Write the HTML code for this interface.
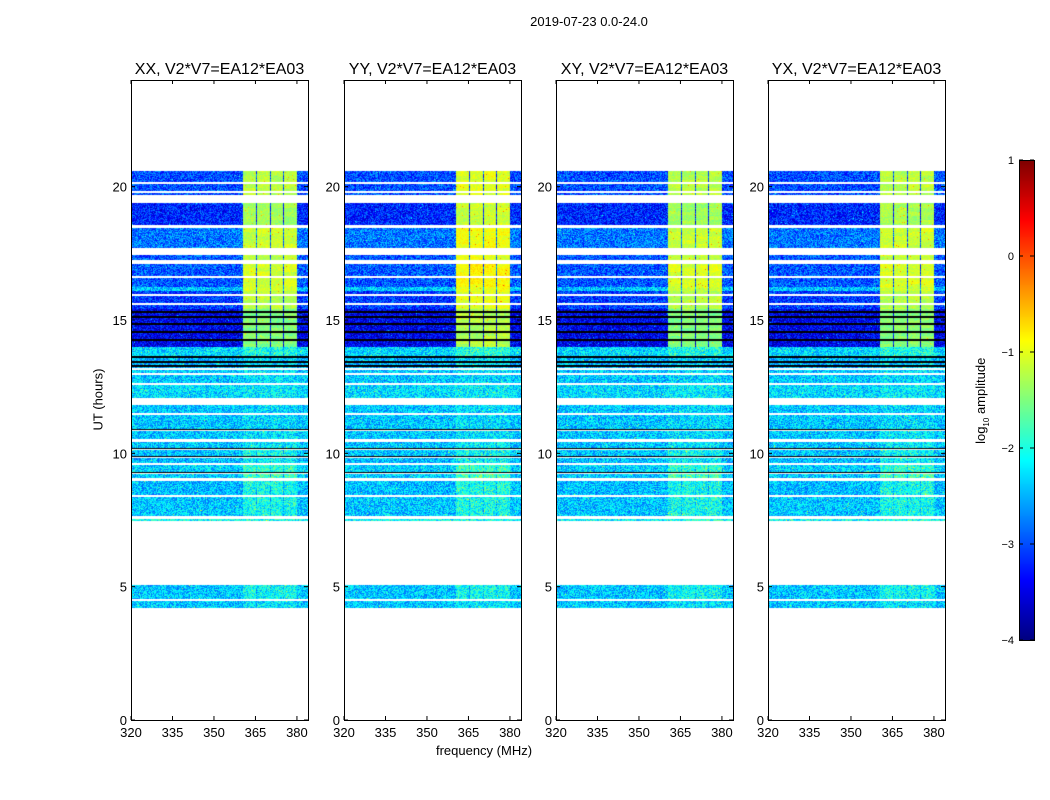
<!DOCTYPE html>
<html><head><meta charset="utf-8"><style>
body{margin:0;background:#fff;font-family:"Liberation Sans",sans-serif;}
#root{position:relative;width:1050px;height:800px;overflow:hidden}
.t{position:absolute;white-space:nowrap;color:#000}
canvas{position:absolute}
</style></head><body><div id="root">
<div class="t" style="left:489px;top:14px;width:200px;text-align:center;font-size:13px">2019-07-23 0.0-24.0</div>
<div class="t" style="left:48px;top:392px;width:100px;text-align:center;font-size:13px;transform:rotate(-90deg)">UT (hours)</div>
<div class="t" style="left:384px;top:743px;width:200px;text-align:center;font-size:13px">frequency (MHz)</div>
<div class="t" style="left:922px;top:392px;width:120px;text-align:center;font-size:13px;transform:rotate(-90deg)">log<sub style="font-size:8px">10</sub> amplitude</div>
<svg id="svg" width="1050" height="800" style="position:absolute;left:0;top:0"></svg>
</div>
<script>
// ---- data ----
const panelTitles=["XX, V2*V7=EA12*EA03","YY, V2*V7=EA12*EA03","XY, V2*V7=EA12*EA03","YX, V2*V7=EA12*EA03"];
const panelRfiScale=[1.0,1.12,1.0,1.02];
const xTicks=[320,335,350,365,380];
const yTicks=[0,5,10,15,20];
const cbTicks=[1,0,-1,-2,-3,-4];
// rows: start hour, end hour, base log amplitude, rfi boost
const rowStart=[4.2,4.52,7.48,7.65,8.42,9.08,9.28,9.62,9.88,10.18,10.55,10.89,11.52,12.07,12.62,13.0,13.2,13.63,14.0,15.4,16.1,16.25,17.25,17.7,18.55,19.7];
const rowEnd  =[4.45,5.05,7.55,8.35,8.97,9.24,9.58,9.84,10.14,10.42,10.85,11.45,11.8,12.55,12.95,13.15,13.6,14.0,15.4,16.1,16.25,17.1,17.45,18.45,19.4,20.6];
const rowLevel=[-2.4,-2.4,-2.1,-2.4,-2.45,-2.4,-2.35,-2.45,-2.4,-2.4,-2.4,-2.4,-2.4,-2.3,-2.4,-2.4,-2.5,-2.3,-3.45,-3.1,-2.4,-2.95,-2.95,-2.8,-3.2,-3.0];
const rowRfi  =[0.15,0.3,0.1,0.35,0.4,0.6,0.45,0.3,0.3,0.2,0.15,0.1,0.1,0.1,0.1,0.15,0.2,0.3,2.0,1.9,1.3,1.9,1.8,1.7,1.9,1.8];
const blackLines=[8.38,9.02,9.26,9.6,9.86,10.16,10.48,10.87,13.29,13.41,13.61,14.25,14.55,14.85,15.1,15.3,19.45,17.5];
const whiteLines=[4.48,11.48,12.58,12.97,13.17,15.6,15.95,16.6,17.6,18.5,19.8,20.15,19.6];
// RFI bands (MHz)
const bandLo=[360.6,365.6,370.7,375.4];
const bandHi=[365.2,370.1,375.0,380.0];

const W=177,H=640,X0=[131,344,556,768],Y0=80,fmin=320,fmax=384,hmax=24;
const fx=f=>(f-fmin)/(fmax-fmin)*W, hy=h=>H-h/hmax*H;
function jet(v){v=Math.max(0,Math.min(1,v));
 const r=Math.max(0,Math.min(1,1.5-Math.abs(4*v-3))),g=Math.max(0,Math.min(1,1.5-Math.abs(4*v-2))),b=Math.max(0,Math.min(1,1.5-Math.abs(4*v-1)));
 return [r*255|0,g*255|0,b*255|0];}
function hash(a,b,c){let h=(a*374761393+b*668265263+c*2147483647)|0;h=(h^(h>>>13))*1274126177|0;return ((h^(h>>>16))>>>0)/4294967296;}
const root=document.getElementById('root'),svg=document.getElementById('svg');
const NS="http://www.w3.org/2000/svg";
function sv(tag,attrs){const e=document.createElementNS(NS,tag);for(const k in attrs)e.setAttribute(k,attrs[k]);svg.appendChild(e);return e;}
function txt(x,y,s,anchor,size){const e=sv('text',{x:x,y:y,'text-anchor':anchor,'font-size':size,'font-family':'Liberation Sans, sans-serif'});e.textContent=s;return e;}
for(let p=0;p<4;p++){
 const c=document.createElement('canvas');c.width=W;c.height=H;c.style.left=X0[p]+'px';c.style.top=Y0+'px';
 
 
 root.insertBefore(c,svg);
 const ctx=c.getContext('2d'),img=ctx.createImageData(W,H),d=img.data;
 for(let y=0;y<H;y++){const h=(H-y-0.5)/H*hmax;
  let ri=-1;for(let i=0;i<rowStart.length;i++)if(h>=rowStart[i]&&h<rowEnd[i]){ri=i;break;}
  if(ri<0)continue;
  let blk=false;for(const b of blackLines)if(Math.abs(h-b)<0.035)blk=true;
  let wht=false;for(const b of whiteLines)if(Math.abs(h-b)<0.035)wht=true;
  for(let x=0;x<W;x++){const o=(y*W+x)*4;
   if(wht){d[o]=d[o+1]=d[o+2]=255;d[o+3]=255;continue;}
   if(blk){d[o]=d[o+1]=d[o+2]=0;d[o+3]=255;continue;}
   const f=fmin+(x+0.5)/W*(fmax-fmin);
   let inb=false,bk=0;for(let k=0;k<bandLo.length;k++)if(f>=bandLo[k]&&f<bandHi[k]){inb=true;bk=k;}
   const strong=rowRfi[ri]>1;
   let v=rowLevel[ri]+(hash(x,y,p)-0.5)*(inb&&strong?0.35:1.0)+(hash(x,y,p+7)>0.99?0.7:0);
   if(inb)v+=rowRfi[ri]*panelRfiScale[p]*(0.93+0.1*hash(bk,y>>2,p));
   const col=jet((v+4)/5);d[o]=col[0];d[o+1]=col[1];d[o+2]=col[2];d[o+3]=255;}
 }
 ctx.putImageData(img,0,0);
 const x0=X0[p];
 const fr=sv('rect',{x:x0+0.5,y:Y0+0.5,width:W,height:H,fill:'none',stroke:'#000','stroke-width':1});
 
 const tt=txt(x0+W/2,74,panelTitles[p],'middle',16);
 
 xTicks.forEach(t=>{const xx=x0+fx(t);sv('line',{x1:xx,x2:xx,y1:Y0+H,y2:Y0+H-4,stroke:'#000'});sv('line',{x1:xx,x2:xx,y1:Y0,y2:Y0+4,stroke:'#000'});
  const l=txt(xx,737,String(t),'middle',13);});
 yTicks.forEach(t=>{const yy=Y0+hy(t);sv('line',{x1:x0,x2:x0+4,y1:yy,y2:yy,stroke:'#000'});sv('line',{x1:x0+W,x2:x0+W-4,y1:yy,y2:yy,stroke:'#000'});
  const l=txt(x0-4,yy+5,String(t),'end',13);});
}
// colorbar
const cb=document.createElement('canvas');cb.width=15;cb.height=480;cb.style.left='1019px';cb.style.top='160px';


root.insertBefore(cb,svg);
const cctx=cb.getContext('2d');for(let y=0;y<480;y++){const c=jet(1-y/480);cctx.fillStyle=`rgb(${c[0]},${c[1]},${c[2]})`;cctx.fillRect(0,y,15,1);}
sv('rect',{x:1019.5,y:160.5,width:15,height:480,fill:'none',stroke:'#000'});
cbTicks.forEach(t=>{const yy=160+(1-t)/5*480;sv('line',{x1:1019,x2:1023,y1:yy,y2:yy,stroke:'#000'});sv('line',{x1:1034,x2:1030,y1:yy,y2:yy,stroke:'#000'});
 const l=txt(1014,yy+4,t<0?'\u2212'+(-t):String(t),'end',11);});
</script></body></html>
